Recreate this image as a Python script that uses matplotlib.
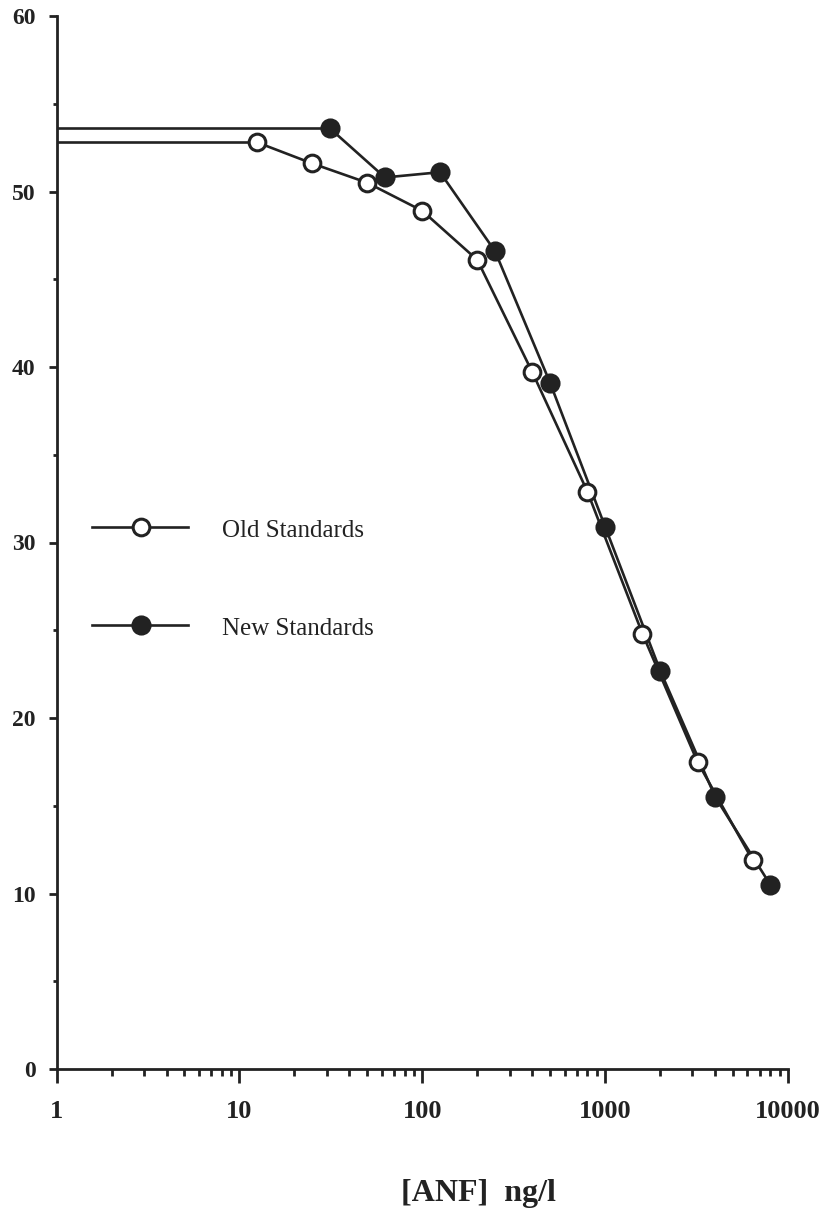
import matplotlib
matplotlib.use("Agg")
import matplotlib.pyplot as plt
from matplotlib.ticker import LogLocator, NullFormatter, FixedLocator
from matplotlib.lines import Line2D

# ---- data ----
old_x = [12.5, 25, 50, 100, 200, 400, 800, 1600, 3200, 6400]
old_y = [52.8, 51.6, 50.5, 48.9, 46.1, 39.7, 32.9, 24.8, 17.5, 11.9]
new_x = [31.25, 62.5, 125, 250, 500, 1000, 2000, 4000, 8000]
new_y = [53.6, 50.8, 51.1, 46.6, 39.1, 30.9, 22.7, 15.5, 10.5]
x_ticks = [1, 10, 100, 1000, 10000]
x_ticklabels = ["1", "10", "100", "1000", "10000"]
y_ticks = [0, 10, 20, 30, 40, 50, 60]
y_ticklabels = ["0", "10", "20", "30", "40", "50", "60"]
labels = ["Old Standards", "New Standards"]
x_label = "[ANF]  ng/l"

plt.rcParams['font.family'] = ['Liberation Serif', 'DejaVu Serif']

W, H = 835, 1222
fig = plt.figure(figsize=(W / 100, H / 100), dpi=100)
fig.patch.set_facecolor('white')
left, right, bottom, top = 56.5, 788, 1069, 16
ax = fig.add_axes([left / W, 1 - bottom / H, (right - left) / W, (bottom - top) / H])

ink = '#222222'
lw = 1.9
ms = 13

# horizontal lead-in lines from the y axis
ax.hlines(old_y[0], 1, old_x[0], color=ink, lw=lw, zorder=2)
ax.hlines(new_y[0], 1, new_x[0], color=ink, lw=lw, zorder=2)

ax.plot(new_x, new_y, '-', color=ink, lw=lw, marker='o', ms=ms,
        mfc=ink, mec=ink, mew=1.5, zorder=3)
ax.plot(old_x, old_y, '-', color=ink, lw=lw, marker='o', ms=ms - 1,
        mfc='white', mec=ink, mew=2.2, zorder=4)

ax.set_xscale('log')
ax.set_xlim(1, 10000)
ax.set_ylim(0, 60)

for s in ['top', 'right']:
    ax.spines[s].set_visible(False)
for s in ['left', 'bottom']:
    ax.spines[s].set_color(ink)
    ax.spines[s].set_linewidth(2.0)

ax.xaxis.set_major_locator(FixedLocator(x_ticks))
ax.set_xticklabels(x_ticklabels, fontsize=19, fontweight='bold', color=ink)
ax.xaxis.set_minor_locator(LogLocator(base=10, subs=range(2, 10), numticks=20))
ax.xaxis.set_minor_formatter(NullFormatter())
ax.set_yticks(y_ticks)
ax.set_yticklabels(y_ticklabels, fontsize=17, fontweight='bold', color=ink)
ax.yaxis.set_minor_locator(FixedLocator([5, 15, 25, 35, 45, 55]))

ax.tick_params(axis='x', which='major', direction='out', length=10, width=2, pad=12, colors=ink)
ax.tick_params(axis='x', which='minor', direction='out', length=5, width=2, colors=ink)
ax.tick_params(axis='y', which='major', direction='out', length=6, width=2, pad=9, colors=ink)
ax.tick_params(axis='y', which='minor', direction='out', length=3, width=2, colors=ink)

# x label
fig.text(478 / W, 1 - 1193 / H, x_label, ha='center', va='center',
         fontsize=23, fontweight='bold', color=ink)

# legend (drawn manually)
rows = [(527, 'white', 2.2, ms - 1), (625, ink, 1.5, ms)]
for (yy, fc, mew, m), lab in zip(rows, labels):
    yf = 1 - yy / H
    fig.add_artist(Line2D([92 / W, 188 / W], [yf, yf], color=ink, lw=lw))
    fig.add_artist(Line2D([141 / W], [yf], marker='o', ms=m, mfc=fc, mec=ink, mew=mew, lw=0))
    fig.text(222 / W, yf - 4 / H, lab, ha='left', va='center', fontsize=18, color=ink)

fig.savefig('out.png', dpi=100, facecolor='white')
